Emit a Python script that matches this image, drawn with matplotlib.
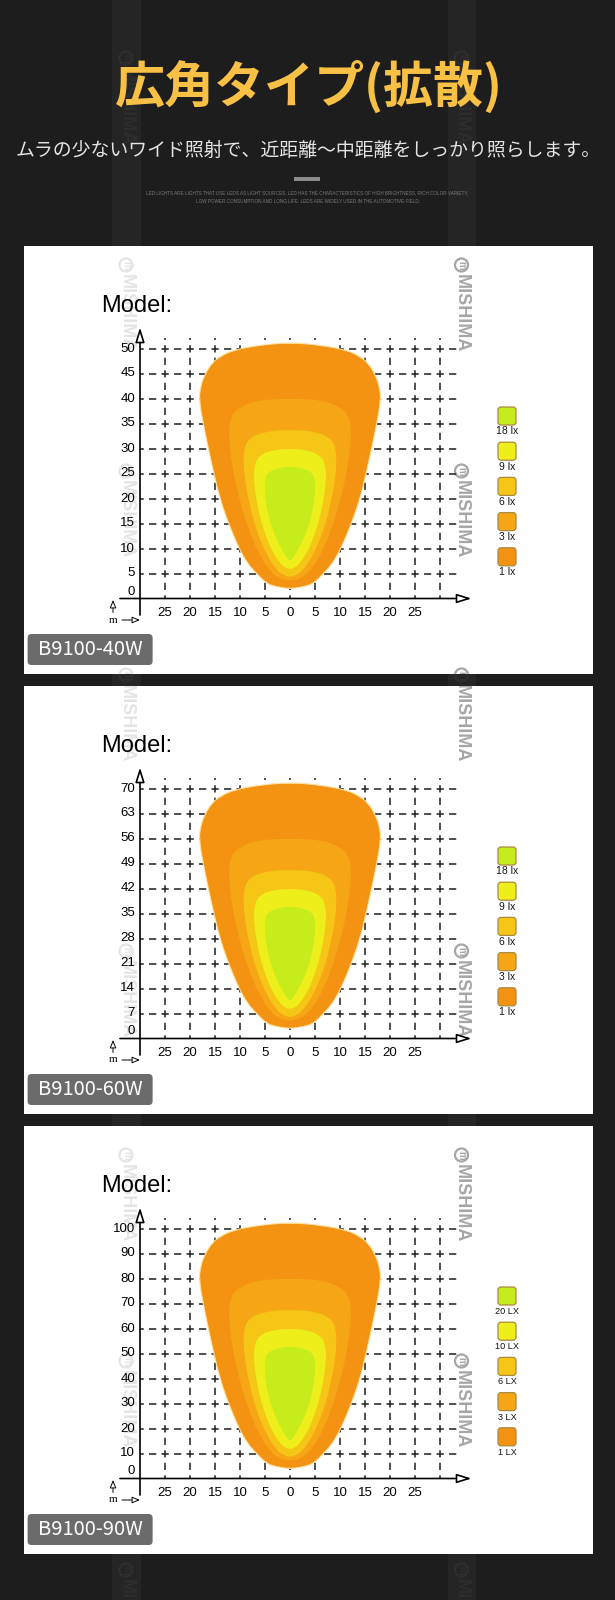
import numpy as np
import matplotlib
matplotlib.use("Agg")
import matplotlib.pyplot as plt
from matplotlib.path import Path
from matplotlib.patches import PathPatch, FancyBboxPatch, Rectangle, Circle

plt.rcParams['font.family'] = ['Liberation Sans', 'DejaVu Sans']
plt.rcParams['lines.scale_dashes'] = False

JP = ['Noto Sans CJK JP', 'DejaVu Sans']

TITLE = "広角タイプ(拡散)"
SUBTITLE = "ムラの少ないワイド照射で、近距離～中距離をしっかり照らします。"
SMALL_1 = ("LED LIGHTS ARE LIGHTS THAT USE LEDS AS LIGHT SOURCES. LED HAS THE "
           "CHARACTERISTICS OF HIGH BRIGHTNESS, RICH COLOR VARIETY,")
SMALL_2 = "LOW POWER CONSUMPTION AND LONG LIFE. LEDS ARE WIDELY USED IN THE AUTOMOTIVE FIELD."

MODELS = ["B9100-40W", "B9100-60W", "B9100-90W"]
Y_TICKS_40 = [0, 5, 10, 15, 20, 25, 30, 35, 40, 45, 50]
Y_TICKS_60 = [0, 7, 14, 21, 28, 35, 42, 49, 56, 63, 70]
Y_TICKS_90 = [0, 10, 20, 30, 40, 50, 60, 70, 80, 90, 100]
X_TICKS = [-25, -20, -15, -10, -5, 0, 5, 10, 15, 20, 25]
X_TICK_LABELS = ["25", "20", "15", "10", "5", "0", "5", "10", "15", "20", "25"]
X_GRID = [-25, -20, -15, -10, -5, 0, 5, 10, 15, 20, 25, 30]

LUX_40 = ["18 lx", "9 lx", "6 lx", "3 lx", "1 lx"]
LUX_60 = ["18 lx", "9 lx", "6 lx", "3 lx", "1 lx"]
LUX_90 = ["20 LX", "10 LX", "6 LX", "3 LX", "1 LX"]
LUX_COLORS = ['#C6EC1C', '#EEEE1B', '#F6C617', '#F6A515', '#F49212']

# isolux outlines: half width (m) at distance (m), from far end to near end
HW_1 = [0, 6, 11.3, 14, 15.7, 17.1, 17.9, 18.2, 17.3, 16.3, 15.2, 14.0, 12.3, 10.2, 8.5, 6.7, 4.7, 3.0, 0]
HW_3 = [0, 6.5, 10.3, 11.9, 12.3, 11.7, 10.3, 8.3, 6.0, 3.7, 1.8, 0]
HW_6 = [0, 5, 8.0, 9.2, 9.3, 8.5, 6.8, 4.5, 2.7, 1.2, 0]
HW_9 = [0, 4, 6.3, 7.2, 7.2, 6.5, 5.3, 3.7, 2.0, 0.8, 0]
HW_18 = [0, 2.5, 4.4, 5.1, 5.0, 4.3, 3.0, 1.4, 0.5, 0]

D40_1 = [51.2, 50.7, 49.7, 48.4, 47.0, 44.7, 42.4, 39.7, 34.7, 29.8, 24.9, 19.9, 15.0, 10.0, 7.0, 5.0, 3.0, 2.4, 1.9]
D40_3 = [40.0, 39.7, 38.2, 36.2, 33.0, 27.0, 20.4, 13.7, 8.4, 5.0, 3.9, 3.5]
D40_6 = [33.8, 33.4, 32.2, 30.2, 25.7, 20.4, 13.7, 8.4, 5.7, 4.6, 4.3]
D40_9 = [30.0, 29.6, 28.4, 26.4, 23.0, 18.4, 13.7, 9.7, 7.0, 6.1, 5.9]
D40_18 = [26.4, 26.1, 25.2, 23.8, 20.4, 16.4, 12.4, 9.4, 7.9, 7.6]

D60_1 = [71.7, 71.0, 69.6, 67.8, 65.8, 62.6, 59.4, 55.6, 48.6, 41.7, 34.9, 27.9, 21.0, 14.0, 9.8, 7.0, 4.2, 3.4, 2.7]
D60_3 = [56.0, 55.6, 53.5, 50.7, 46.2, 37.8, 28.6, 19.2, 11.8, 7.0, 5.5, 4.9]
D60_6 = [47.3, 46.8, 45.1, 42.3, 36.0, 28.6, 19.2, 11.8, 8.0, 6.4, 6.0]
D60_9 = [42.0, 41.4, 39.8, 37.0, 32.2, 25.8, 19.2, 13.6, 9.8, 8.5, 8.3]
D60_18 = [37.0, 36.5, 35.3, 33.3, 28.6, 23.0, 17.4, 13.2, 11.1, 10.6]

D90_1 = [102.4, 101.4, 99.4, 96.8, 94.0, 89.4, 84.8, 79.4, 69.4, 59.6, 49.8, 39.8, 30.0, 20.0, 14.0, 10.0, 6.0, 4.8, 3.8]
D90_3 = [80.0, 79.4, 76.4, 72.4, 66.0, 54.0, 40.8, 27.4, 16.8, 10.0, 7.8, 7.0]
D90_6 = [67.6, 66.8, 64.4, 60.4, 51.4, 40.8, 27.4, 16.8, 11.4, 9.2, 8.6]
D90_9 = [60.0, 59.2, 56.8, 52.8, 46.0, 36.8, 27.4, 19.4, 14.0, 12.2, 11.8]
D90_18 = [52.8, 52.2, 50.4, 47.6, 40.8, 32.8, 24.8, 18.8, 15.8, 15.2]

HALF_WIDTHS = [HW_1, HW_3, HW_6, HW_9, HW_18]
PANELS = [
    (MODELS[0], Y_TICKS_40, LUX_40, [D40_1, D40_3, D40_6, D40_9, D40_18]),
    (MODELS[1], Y_TICKS_60, LUX_60, [D60_1, D60_3, D60_6, D60_9, D60_18]),
    (MODELS[2], Y_TICKS_90, LUX_90, [D90_1, D90_3, D90_6, D90_9, D90_18]),
]

MARK_TOPS = [50, 257, 463, 667, 943, 1147, 1353, 1562]
MARK_COLS = [126, 461.5]


def beam_path(dist, hw):
    pts = [(w, d) for d, w in zip(dist, hw)]
    pts += [(-w, d) for d, w in zip(dist[::-1][1:-1], hw[::-1][1:-1])]
    P = np.array(pts, dtype=float)
    mids = (P + np.roll(P, -1, axis=0)) / 2
    verts = [mids[-1]]
    codes = [Path.MOVETO]
    for i in range(len(P)):
        verts += [P[i], mids[i]]
        codes += [Path.CURVE3, Path.CURVE3]
    return Path(verts, codes)


def mark(ax, x, top, color, z, clip=None):
    c = Circle((x, top + 8), 6.5, fill=False, ec=color, lw=1.6, zorder=z)
    ax.add_patch(c)
    t1 = ax.text(x, top + 8, "m", fontsize=7, fontweight='bold', color=color, rotation=-90,
                 ha='center', va='center', zorder=z)
    t2 = ax.text(x, top + 17, "MISHIMA", fontsize=13, fontweight='bold', color=color,
                 rotation=-90, ha='center', va='top', zorder=z)
    if clip is not None:
        for a in (c, t1, t2):
            a.set_clip_path(clip)
            a.set_clip_on(True)


fig = plt.figure(figsize=(6.15, 16), dpi=100, facecolor='#1D1D1D')
bg = fig.add_axes([0, 0, 1, 1])
bg.set_xlim(0, 615)
bg.set_ylim(1600, 0)
bg.axis('off')

for x0 in (112, 447.5):
    bg.add_patch(Rectangle((x0, 0), 28.5, 1600, color='#252525', lw=0, zorder=0))
for top in MARK_TOPS:
    for xc in MARK_COLS:
        mark(bg, xc, top, '#2E2E2E', 0.5)

bg.text(308.5, 87, TITLE, fontsize=36, fontweight='bold', color='#F8C146',
        ha='center', va='center', family=JP)
bg.text(308.5, 150, SUBTITLE, fontsize=13.6, color='#E4E4E4',
        ha='center', va='center', family=JP)
bg.add_patch(Rectangle((294, 177), 26, 4, color='#8C8C8C', lw=0))
bg.text(307.5, 192.7, SMALL_1, fontsize=3.3, color='#7A7A7A', ha='center', va='center')
bg.text(308, 201.3, SMALL_2, fontsize=3.3, color='#7A7A7A', ha='center', va='center')

for k, (model, yticks, luxes, dists) in enumerate(PANELS):
    dy = 440 * k
    panel = Rectangle((23.5, 246 + dy), 569.5, 428, color='white', lw=0, zorder=1)
    bg.add_patch(panel)
    for top in MARK_TOPS:
        for xc, col in zip(MARK_COLS, ['#E4E4E4', '#A6A6A6']):
            mark(bg, xc, top, col, 2, clip=panel)

    bg.text(101.5, 311.5 + dy, "Model:", fontsize=17, color='black', ha='left',
            va='baseline', zorder=3)

    for i, (lab, colr) in enumerate(zip(luxes, LUX_COLORS)):
        ytop = 407 + dy + 35.2 * i
        bg.add_patch(FancyBboxPatch((498, ytop), 18, 18,
                                    boxstyle='round,pad=0,rounding_size=3',
                                    fc=colr, ec='#A98A3E', lw=0.9, zorder=3))
        bg.text(507, ytop + 24.5, lab, fontsize=7.5 if k < 2 else 6.6, color='#111111',
                ha='center', va='center', zorder=3)

    bg.add_patch(FancyBboxPatch((27.6, 634 + dy), 125, 31,
                                boxstyle='round,pad=0,rounding_size=4',
                                fc='#6B6B6B', ec='none', zorder=3))
    bg.text(90, 649.5 + dy, model, fontsize=14.5, color='white', ha='center',
            va='center', family=JP, zorder=4)

    # chart area, 25 px per grid step
    step = yticks[1] - yticks[0]
    s = 25.0 / step
    ax = fig.add_axes([100 / 615, 1 - (630 + dy) / 1600, 380 / 615, 310 / 1600])
    ax.set_xlim(-38, 38)
    ax.set_ylim(-31.5 / s, 278.5 / s)
    ax.axis('off')
    ax.patch.set_alpha(0)

    dash = (2.5, (5.2, 3.8))
    ax.hlines(yticks[1:], -30, 34, colors='#1E1E1E', lw=1.1, linestyles=[dash], zorder=1)
    ax.vlines(X_GRID, 0, 260.5 / s, colors='#1E1E1E', lw=1.1, linestyles=[dash], zorder=1)

    for dist, hw, colr in zip(dists, HALF_WIDTHS, LUX_COLORS[::-1]):
        outer = dist is dists[0]
        ax.add_patch(PathPatch(beam_path(dist, hw), fc=colr,
                               ec='#FCE2A2' if outer else 'none',
                               lw=0.8 if outer else 0, zorder=2))

    arrow = dict(arrowstyle='-|>,head_length=0.8,head_width=0.25', fc='white', ec='black',
                 lw=1.2, mutation_scale=11, shrinkA=0, shrinkB=0)
    ax.annotate('', xy=(36.3, 0), xytext=(-34, 0), arrowprops=arrow, zorder=3)
    ax.annotate('', xy=(-30, 271 / s), xytext=(-30, -16.5 / s), arrowprops=arrow, zorder=3)

    for yv in yticks:
        off = 7 / s if yv == 0 else 0
        ax.text(-31, yv + off, str(yv), fontsize=9.5, ha='right', va='center', zorder=4)
    for xv, lab in zip(X_TICKS, X_TICK_LABELS):
        ax.text(xv, -14.2 / s, lab, fontsize=9.5, ha='center', va='center', zorder=4)

    small = dict(arrowstyle='-|>,head_length=0.6,head_width=0.25', fc='white', ec='black',
                 lw=0.7, mutation_scale=8, shrinkA=0, shrinkB=0)
    ax.annotate('', xy=(-35.4, -1.5 / s), xytext=(-35.4, -14 / s), arrowprops=small)
    ax.annotate('', xy=(-30, -21.5 / s), xytext=(-33.6, -21.5 / s), arrowprops=small)
    ax.text(-35.4, -21.5 / s, "m", fontsize=8, family='Liberation Serif', ha='center',
            va='center')

fig.savefig("out.png", dpi=100, facecolor=fig.get_facecolor())
